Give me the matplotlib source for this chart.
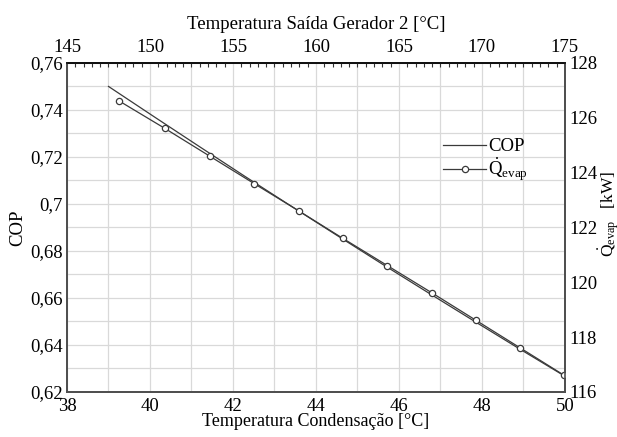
import matplotlib
matplotlib.use("Agg")
import matplotlib.pyplot as plt
from matplotlib.ticker import MultipleLocator, FuncFormatter

plt.rcParams["font.family"] = ["Liberation Serif", "DejaVu Serif"]
plt.rcParams["mathtext.fontset"] = "custom"
plt.rcParams["mathtext.rm"] = "Liberation Serif"
plt.rcParams["mathtext.it"] = "Liberation Serif:italic"

# data
cop_temp = [39.0, 40.1, 41.2, 42.3, 43.4, 44.5, 45.6, 46.7, 47.8, 48.9, 50.0]
cop = [0.7500, 0.7371, 0.7243, 0.7116, 0.6991, 0.6867, 0.6744, 0.6623, 0.6503, 0.6384, 0.6267]

q_temp = [39.26, 40.35, 41.44, 42.51, 43.58, 44.64, 45.72, 46.8, 47.86, 48.92, 49.98]
q_evap = [126.61, 125.62, 124.6, 123.6, 122.61, 121.61, 120.61, 119.61, 118.61, 117.61, 116.61]

# top axis: generator outlet temperature range
gen_range = (145, 175)

line_col = "#3a3a3a"
spine_col = "#505050"
fs = 13.5

fig = plt.figure(figsize=(6.17, 4.37), dpi=100)
ax = fig.add_axes([0.1086, 0.103, 0.807, 0.753])

ax.plot(cop_temp, cop, color=line_col, lw=0.9, label="COP", zorder=3)
ax.set_xlim(38, 50)
ax.set_ylim(0.62, 0.76)
ax.xaxis.set_major_locator(MultipleLocator(2))
ax.xaxis.set_minor_locator(MultipleLocator(1))
ax.yaxis.set_major_locator(MultipleLocator(0.02))
ax.yaxis.set_minor_locator(MultipleLocator(0.01))
ax.yaxis.set_major_formatter(FuncFormatter(lambda v, p: f"{v:.2f}".rstrip("0").replace(".", ",")))
ax.grid(which="both", color="#d9d9d9", lw=0.9)
ax.set_axisbelow(True)
ax.tick_params(which="both", length=0, labelsize=fs, pad=3)
ax.tick_params(axis="x", pad=4)
ax.set_xlabel("Temperatura Condensação [°C]", fontsize=13, labelpad=-1)
ax.set_ylabel("COP", fontsize=fs, labelpad=3)

ax2 = ax.twinx()
ax2.plot(q_temp, q_evap, color=line_col, lw=0.9, marker="o", ms=4.5,
         mfc="white", mec=line_col, mew=0.9, label=r"$\dot{\mathrm{Q}}_{\mathrm{evap}}$",
         zorder=3)
ax2.set_ylim(116, 128)
ax2.yaxis.set_major_locator(MultipleLocator(2))
ax2.tick_params(length=0, labelsize=fs, pad=3)
ax2.set_ylabel(r"$\dot{\mathrm{Q}}_{\mathrm{evap}}\quad$[kW]", fontsize=12.5)
ax2.yaxis.set_label_coords(1.064, 0.54)

top = ax.twiny()
top.set_xlim(*gen_range)
top.xaxis.set_major_locator(MultipleLocator(5))
top.xaxis.set_minor_locator(MultipleLocator(0.5))
top.tick_params(which="major", length=0, labelsize=fs, pad=5)
top.tick_params(which="minor", direction="in", length=3, width=0.8, color="#333333")
top.set_xlabel("Temperatura Saída Gerador 2 [°C]", fontsize=fs, labelpad=7)

for a in (ax, ax2, top):
    for s in a.spines.values():
        s.set_color(spine_col)
        s.set_linewidth(1.2)
    a.spines["top"].set_color("#111111")

h1, l1 = ax.get_legend_handles_labels()
h2, l2 = ax2.get_legend_handles_labels()
top.legend(h1 + h2, l1 + l2, loc="upper left", bbox_to_anchor=(0.737, 0.80),
           frameon=False, fontsize=fs, handlelength=2.3, handletextpad=0.1,
           labelspacing=0.05, borderpad=0)

fig.savefig("out.png", dpi=100)
